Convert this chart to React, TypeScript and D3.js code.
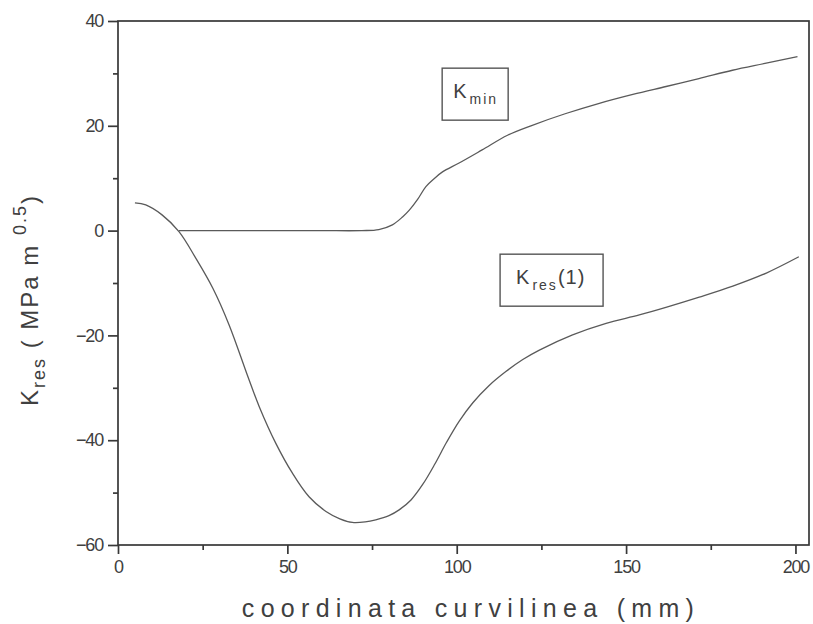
import React, { useEffect, useRef } from 'react';
import * as d3 from 'd3';

// K_res(1) curve
const kresX = [5, 8.2, 13, 18, 23, 28, 32.8, 38.2, 41.7, 46.6, 51.5, 56.4, 61.4, 65.5, 69.2, 73, 76.1, 80, 83, 86.5, 90, 93.5, 97, 100.7, 104.7, 109.5, 114.5, 119.5, 124.4, 134.2, 144.1, 153.9, 162, 171.6, 181.5, 191.4, 201];
const kresY = [5.3, 4.9, 3.0, -0.2, -5.3, -11.0, -18.0, -27.6, -33.6, -40.6, -46.3, -50.8, -53.6, -55.0, -55.7, -55.6, -55.2, -54.4, -53.3, -51.4, -48.4, -44.6, -40.4, -36.4, -32.9, -29.6, -26.9, -24.6, -22.8, -19.9, -17.7, -16.1, -14.6, -12.7, -10.6, -8.1, -5.0];

// K_min curve
const kminX = [18, 30, 45, 60, 72, 77, 81, 84, 86, 88.5, 90.9, 93.5, 95.8, 100.7, 107.5, 115, 122.3, 132, 142.1, 152, 161.8, 171.5, 181.4, 191, 200.6];
const kminY = [0, 0, 0, 0, 0, 0.2, 1.1, 2.6, 3.9, 6.0, 8.4, 10.0, 11.2, 12.9, 15.4, 18.2, 20.1, 22.3, 24.3, 26.0, 27.5, 29.0, 30.6, 31.9, 33.2];

const xMajor = [0, 50, 100, 150, 200];
const xMinor = [25, 75, 125, 175];
const yMajor = [-60, -40, -20, 0, 20, 40];
const yMinor = [-50, -30, -10, 10, 30];

// boxed curve labels: anchor = top-left corner in data units
const boxLabels = [
  { main: 'K', sub: 'min', after: '', x: 95.7, y: 31.0, w: 66 },
  { main: 'K', sub: 'res', after: '(1)', x: 112.8, y: -4.5, w: 103 },
];

const W = 813;
const H = 624;
const FONT = '"Liberation Sans", Arial, sans-serif';

const App: React.FC = () => {
  const svgRef = useRef<SVGSVGElement>(null);

  useEffect(() => {
    document.body.style.margin = '0';
    if (!svgRef.current) return;
    const svg = d3.select(svgRef.current);
    svg.selectAll('*').remove();

    const left = 118, right = 809, top = 21, bottom = 545;

    const x = d3.scaleLinear().domain([0, 204]).range([left, right]);
    const y = d3.scaleLinear().domain([-60, 40]).range([bottom, top]);

    const axisColor = '#383838';
    const textColor = '#404040';
    const lineColor = '#5a5a5a';

    svg.append('rect').attr('width', W).attr('height', H).attr('fill', '#fff');

    // frame
    svg.append('rect')
      .attr('x', left).attr('y', top)
      .attr('width', right - left).attr('height', bottom - top)
      .attr('fill', 'none').attr('stroke', axisColor).attr('stroke-width', 1.7);

    // --- AXES ---
    const xAxis = svg.append('g').attr('transform', `translate(0,${bottom})`)
      .call(d3.axisBottom(x).tickValues(xMajor).tickSize(9).tickPadding(6).tickFormat(d3.format('d')));
    svg.append('g').attr('transform', `translate(0,${bottom})`)
      .call(d3.axisBottom(x).tickValues(xMinor).tickSize(5).tickFormat(() => ''));

    const yAxis = svg.append('g').attr('transform', `translate(${left},0)`)
      .call(d3.axisLeft(y).tickValues(yMajor).tickSize(10).tickPadding(5).tickFormat(d3.format('d')));
    svg.append('g').attr('transform', `translate(${left},0)`)
      .call(d3.axisLeft(y).tickValues(yMinor).tickSize(5).tickFormat(() => ''));

    svg.selectAll('.domain').remove();
    svg.selectAll('.tick line').attr('stroke', axisColor).attr('stroke-width', 1.7);
    [xAxis, yAxis].forEach(a => a.selectAll('text')
      .attr('fill', textColor)
      .attr('font-family', FONT)
      .attr('font-size', 18)
      .attr('letter-spacing', -1.2));

    // --- CURVES ---
    const line = d3.line<[number, number]>()
      .curve(d3.curveCatmullRom.alpha(0.5))
      .x(d => x(d[0]))
      .y(d => y(d[1]));

    const kres = kresX.map((v, i) => [v, kresY[i]] as [number, number]);
    const kmin = kminX.map((v, i) => [v, kminY[i]] as [number, number]);

    [kres, kmin].forEach(pts => {
      svg.append('path')
        .datum(pts)
        .attr('fill', 'none')
        .attr('stroke', lineColor)
        .attr('stroke-width', 1.3)
        .attr('d', line);
    });

    // --- BOXED LABELS ---
    boxLabels.forEach(b => {
      const bx = x(b.x), by = y(b.y);
      svg.append('rect')
        .attr('x', bx).attr('y', by).attr('width', b.w).attr('height', 52)
        .attr('fill', '#fff').attr('stroke', '#555').attr('stroke-width', 1.4);
      const t = svg.append('text')
        .attr('x', bx + (b.after ? 16 : 11)).attr('y', by + 30)
        .attr('fill', textColor)
        .attr('font-family', FONT)
        .attr('font-size', 20)
        .attr('letter-spacing', 1);
      t.append('tspan').text(b.main);
      t.append('tspan').attr('dx', 2).attr('dy', 6).attr('font-size', 14).attr('letter-spacing', 2).text(b.sub);
      if (b.after) t.append('tspan').attr('dy', -6).attr('font-size', 20).text(b.after);
    });

    // --- AXIS TITLES ---
    svg.append('text')
      .attr('x', 471).attr('y', 617)
      .attr('text-anchor', 'middle')
      .attr('fill', textColor)
      .attr('font-family', FONT)
      .attr('font-size', 25)
      .attr('letter-spacing', 6.3)
      .text('coordinata curvilinea (mm)');

    const yt = svg.append('text')
      .attr('transform', 'translate(38,300) rotate(-90)')
      .attr('text-anchor', 'middle')
      .attr('fill', textColor)
      .attr('font-family', FONT)
      .attr('font-size', 24)
      .attr('letter-spacing', 2);
    yt.append('tspan').text('K');
    yt.append('tspan').attr('dy', 7).attr('font-size', 18).text('res');
    yt.append('tspan').attr('dy', -7).text(' ( MPa m ');
    yt.append('tspan').attr('dy', -12).attr('font-size', 18).text('0.5');
    yt.append('tspan').attr('dy', 12).text(')');
  }, []);

  return <svg ref={svgRef} width={W} height={H} style={{ display: 'block' }} />;
};

export default App;
